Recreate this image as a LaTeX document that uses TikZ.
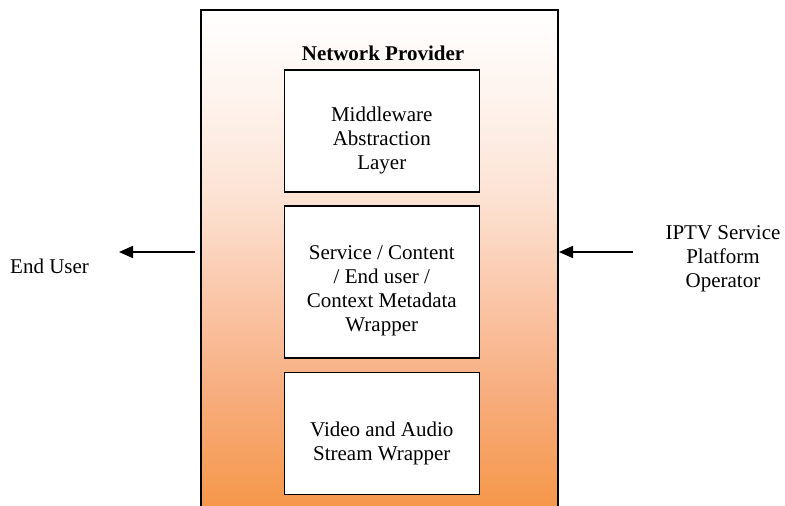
\documentclass[tikz,border=0pt]{standalone}
\usepackage{fontspec}
\setmainfont{Liberation Serif}
\usetikzlibrary{arrows.meta}
\definecolor{sA}{RGB}{245,151,74}
\definecolor{sB}{RGB}{247,172,124}
\definecolor{sC}{RGB}{250,198,168}
\definecolor{sD}{RGB}{252,226,211}
\definecolor{sE}{RGB}{254,243,237}
\pgfdeclareverticalshading{npshade}{100bp}{color(0bp)=(sA); color(25bp)=(sA); color(36bp)=(sB); color(46bp)=(sC); color(56bp)=(sD); color(66bp)=(sE); color(75bp)=(white); color(100bp)=(white)}
\tikzset{
  layerbox/.style={draw=black, line width=1.5pt, fill=white, minimum width=195pt, inner sep=0pt},
  lbl/.style={align=center, font=\fontsize{21}{24}\selectfont, inner sep=0pt},
  flow/.style={line width=1.5pt, -{Triangle[length=14pt,width=12pt]}}
}
\begin{document}
\begin{tikzpicture}[x=1pt,y=-1pt]
\useasboundingbox (0,0) rectangle (785,506);
\begin{scope}
\clip (0,0) rectangle (785,506);
\path[shading=npshade] (201,10) rectangle (558,507);
\draw[line width=1.5pt] (201,510) -- (201,10) -- (558,10) -- (558,510);
\end{scope}
\node[lbl, font=\fontsize{21}{24}\selectfont\bfseries] (title) at (383,53) {Network Provider};
\node[layerbox, minimum height=122pt] (mw) at (381.8,131) {};
\node[lbl] (mwt) at (381.8,140) {Middleware\\Abstraction\\Layer};
\node[layerbox, minimum height=151.7pt] (sc) at (381.8,282) {};
\node[lbl] (sct) at (381.8,291) {Service / Content\\/ End user /\\Context Metadata\\Wrapper};
\node[layerbox, minimum height=121.6pt] (va) at (381.8,433.5) {};
\node[lbl] (vat) at (381.8,443) {Video and Audio\\Stream Wrapper};
\node[lbl] (eu) at (49.6,266.5) {End User};
\node[lbl] (ip) at (723,259) {IPTV Service\\Platform\\Operator};
\coordinate (lout) at (195,252);
\coordinate (ltip) at (119,252);
\coordinate (rin) at (633,252);
\coordinate (rtip) at (559,252);
\draw[flow] (lout) -- (ltip);
\draw[flow] (rin) -- (rtip);
\end{tikzpicture}
\end{document}
